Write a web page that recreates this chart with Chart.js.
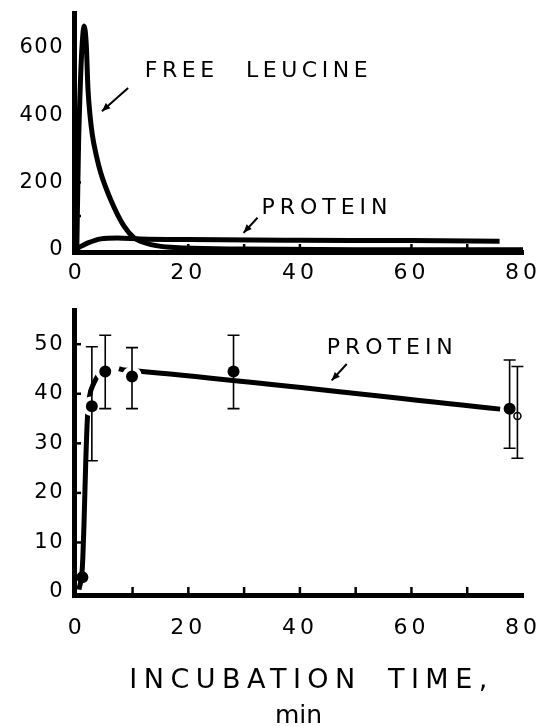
<!DOCTYPE html>
<html>
<head>
<meta charset="utf-8">
<script src="https://cdn.jsdelivr.net/npm/chart.js@4.4.1/dist/chart.umd.min.js"></script>
<style>
	html, body { margin: 0; padding: 0; background: #fff; }
	#wrap { position: relative; width: 540px; height: 726px; }
	#top-chart { position: absolute; left: 0; top: 0; }
	#bottom-chart { position: absolute; left: 0; top: 290px; }
</style>
</head>
<body>
<div id="wrap">
	<canvas id="top-chart" width="540" height="290"></canvas>
	<canvas id="bottom-chart" width="540" height="436"></canvas>
</div>
<script>
var FONT = '"DejaVu Sans", sans-serif';

// upper panel
var leucineX = [0, 0.3, 0.7, 1.0, 1.3, 1.7, 2.0, 2.4, 2.8, 3.5, 4.3, 6.1, 8.5, 10.3, 13.3, 19.3, 30, 50, 80];
var leucineY = [0, 300, 520, 620, 665, 610, 480, 395, 340, 280, 228, 148, 69, 35, 15, 5, 2, 0, 0];
var proteinTopX = [-0.3, 1, 2, 4.3, 7.3, 11.5, 20, 40, 60, 75.8];
var proteinTopY = [0, 12, 20, 32, 35, 32, 30, 28, 27, 25];
var topYTicks = [0, 200, 400, 600];
var topYMinor = [100, 200, 300, 400];
var topXTicks = [0, 20, 40, 60, 80];
var topXMinor = [20, 30, 40, 60, 70];

// lower panel
var curveX = [0.4, 1.0, 1.3, 1.6, 1.9, 2.3, 3.0, 4.0, 5.1, 6.5, 8.5, 10.8, 75.9];
var curveY = [0.5, 5, 14, 26, 35, 39.5, 42, 44, 45, 45.3, 44.8, 44.6, 36.9];
var pointX = [1.0, 2.7, 5.1, 9.9, 28.1, 77.6];
var pointY = [3, 37.5, 44.5, 43.5, 44.5, 37];
var pointLow = [null, 26.5, 37, 37, 37, 29];
var pointHigh = [null, 49.5, 51.8, 49.3, 51.8, 46.8];
var openX = [79];
var openY = [35.5];
var openLow = [27];
var openHigh = [45.5];
var bottomYTicks = [0, 10, 20, 30, 40, 50];
var bottomYMinor = [10, 20, 30, 40, 50];
var bottomXTicks = [0, 20, 40, 60, 80];
var bottomXMinor = [10, 20, 30, 40, 50, 60, 70];

function pairs(xs, ys) {
	return xs.map(function(x, i) { return { x: x, y: ys[i] }; });
}

function setTicks(list) {
	return function(scale) {
		scale.ticks = list.map(function(v) { return { value: v }; });
	};
}

// x labels are drawn before the datasets, y labels after them (ticks.z = 1)
var spacing = {
	id: 'spacing',
	beforeDraw: function(chart) {
		chart.ctx.letterSpacing = '4px';
	},
	afterDatasetsDraw: function(chart) {
		chart.ctx.letterSpacing = '1.5px';
	}
};

var innerTicks = {
	id: 'innerTicks',
	afterDatasetsDraw: function(chart, args, opts) {
		var ctx = chart.ctx, a = chart.chartArea;
		ctx.save();
		ctx.strokeStyle = '#000';
		ctx.lineWidth = 2.5;
		(opts.x || []).forEach(function(v) {
			var px = chart.scales.x.getPixelForValue(v);
			ctx.beginPath();
			ctx.moveTo(px, a.bottom);
			ctx.lineTo(px, a.bottom - 8);
			ctx.stroke();
		});
		(opts.y || []).forEach(function(v) {
			var py = chart.scales.y.getPixelForValue(v);
			ctx.beginPath();
			ctx.moveTo(a.left, py);
			ctx.lineTo(a.left + 7, py);
			ctx.stroke();
		});
		ctx.restore();
	}
};

var errorBars = {
	id: 'errorBars',
	afterDatasetsDraw: function(chart, args, opts) {
		var ctx = chart.ctx, sx = chart.scales.x, sy = chart.scales.y;
		ctx.save();
		ctx.strokeStyle = '#000';
		ctx.lineWidth = 1.6;
		(opts.sets || []).forEach(function(set) {
			set.x.forEach(function(x, i) {
				if (set.low[i] == null) return;
				var px = sx.getPixelForValue(x);
				var lo = sy.getPixelForValue(set.low[i]);
				var hi = sy.getPixelForValue(set.high[i]);
				ctx.beginPath();
				ctx.moveTo(px, lo); ctx.lineTo(px, hi);
				ctx.moveTo(px - 6, lo); ctx.lineTo(px + 6, lo);
				ctx.moveTo(px - 6, hi); ctx.lineTo(px + 6, hi);
				ctx.stroke();
			});
		});
		ctx.restore();
	}
};

var notes = {
	id: 'notes',
	afterDraw: function(chart, args, opts) {
		var ctx = chart.ctx, sx = chart.scales.x, sy = chart.scales.y;
		ctx.save();
		ctx.fillStyle = '#000';
		ctx.strokeStyle = '#000';
		(opts.items || []).forEach(function(n) {
			ctx.font = n.size + 'px ' + FONT;
			ctx.letterSpacing = n.spacing + 'px';
			ctx.wordSpacing = (n.words || 0) + 'px';
			ctx.textAlign = 'left';
			ctx.textBaseline = 'middle';
			ctx.fillText(n.text, sx.getPixelForValue(n.x), sy.getPixelForValue(n.y));
			if (n.arrow) {
				var x0 = sx.getPixelForValue(n.arrow[0]), y0 = sy.getPixelForValue(n.arrow[1]);
				var x1 = sx.getPixelForValue(n.arrow[2]), y1 = sy.getPixelForValue(n.arrow[3]);
				var ang = Math.atan2(y1 - y0, x1 - x0);
				ctx.lineWidth = 2;
				ctx.beginPath();
				ctx.moveTo(x0, y0); ctx.lineTo(x1, y1);
				ctx.stroke();
				ctx.beginPath();
				ctx.moveTo(x1, y1);
				ctx.lineTo(x1 - 9 * Math.cos(ang - 0.4), y1 - 9 * Math.sin(ang - 0.4));
				ctx.lineTo(x1 - 9 * Math.cos(ang + 0.4), y1 - 9 * Math.sin(ang + 0.4));
				ctx.closePath();
				ctx.fill();
			}
		});
		// axis title under the lower panel
		var a = chart.chartArea, cx = (a.left + a.right) / 2;
		(opts.title || []).forEach(function(t) {
			ctx.font = t.size + 'px ' + FONT;
			ctx.letterSpacing = t.spacing + 'px';
			ctx.wordSpacing = (t.words || 0) + 'px';
			ctx.textAlign = 'center';
			ctx.textBaseline = 'alphabetic';
			ctx.fillText(t.text, cx + t.dx, a.bottom + t.dy);
		});
		ctx.restore();
	}
};

function axes(xMin, xMax, xTicks, xPad, xHeight, yMin, yMax, yTicks) {
	return {
		x: {
			type: 'linear', min: xMin, max: xMax,
			afterBuildTicks: setTicks(xTicks),
			afterFit: function(s) { s.height = xHeight; s.paddingLeft = 0; s.paddingRight = 0; },
			grid: { display: false, drawTicks: false },
			border: { display: true, width: 5, color: '#000' },
			ticks: { color: '#000', padding: xPad, font: { family: FONT, size: 22 } }
		},
		y: {
			type: 'linear', min: yMin, max: yMax,
			afterBuildTicks: setTicks(yTicks),
			afterFit: function(s) { s.width = 74; s.paddingTop = 0; s.paddingBottom = 0; },
			grid: { display: false, drawTicks: false },
			border: { display: true, width: 5, color: '#000' },
			ticks: { color: '#000', padding: 10, z: 1, font: { family: FONT, size: 21 } }
		}
	};
}

var lineStyle = {
	borderColor: '#000', borderWidth: 5, pointRadius: 0,
	fill: false, cubicInterpolationMode: 'monotone'
};

var topChart = new Chart(document.getElementById('top-chart').getContext('2d'), {
	type: 'line',
	data: {
		datasets: [
			Object.assign({ label: 'Free leucine', data: pairs(leucineX, leucineY) }, lineStyle),
			Object.assign({ label: 'Protein', data: pairs(proteinTopX, proteinTopY) }, lineStyle)
		]
	},
	options: {
		responsive: false,
		animation: false,
		layout: { padding: { left: 0, top: 13, right: 17, bottom: 0 } },
		scales: axes(-0.5, 80, topXTicks, 8, 38, -7, 704, topYTicks),
		plugins: {
			legend: { display: false },
			tooltip: { enabled: false },
			innerTicks: { x: topXMinor, y: topYMinor },
			notes: {
				items: [
					{ text: 'FREE LEUCINE', x: 12.2, y: 532, size: 22, spacing: 4.5, words: 16, arrow: [9.2, 481, 4.5, 412] },
					{ text: 'PROTEIN', x: 33.1, y: 122, size: 22, spacing: 5, arrow: [32.4, 95, 29.9, 50] }
				]
			}
		}
	},
	plugins: [spacing, innerTicks, notes]
});

var bottomChart = new Chart(document.getElementById('bottom-chart').getContext('2d'), {
	type: 'line',
	data: {
		datasets: [
			{
				label: 'Protein', data: pairs(pointX, pointY), showLine: false,
				pointRadius: [6, 8, 8, 8, 6, 6], pointBackgroundColor: '#000',
				pointBorderColor: '#fff', pointBorderWidth: [0, 4, 4, 4, 0, 0]
			},
			{
				label: 'Protein (open)', data: pairs(openX, openY), showLine: false,
				pointRadius: 3.5, pointBackgroundColor: '#fff', pointBorderColor: '#000', pointBorderWidth: 1.5
			},
			Object.assign({
				label: 'Protein curve', data: pairs(curveX, curveY),
				segment: {
					borderDash: function(ctx) {
						return ctx.p0.parsed.x >= 4.0 && ctx.p1.parsed.x <= 10.8 ? [12, 10] : undefined;
					}
				}
			}, lineStyle)
		]
	},
	options: {
		responsive: false,
		animation: false,
		layout: { padding: { left: 0, top: 20, right: 17, bottom: 0 } },
		scales: axes(-0.5, 80, bottomXTicks, 20, 131, -0.6, 56.9, bottomYTicks),
		plugins: {
			legend: { display: false },
			tooltip: { enabled: false },
			innerTicks: { x: bottomXMinor, y: bottomYMinor },
			errorBars: {
				sets: [
					{ x: pointX, low: pointLow, high: pointHigh },
					{ x: openX, low: openLow, high: openHigh }
				]
			},
			notes: {
				items: [
					{ text: 'PROTEIN', x: 44.8, y: 49.2, size: 22, spacing: 5, arrow: [48.4, 46, 45.7, 42.7] }
				],
				title: [
					{ text: 'INCUBATION TIME,', size: 27, spacing: 6.5, words: 11, dx: 13, dy: 93 },
					{ text: 'min', size: 25, spacing: 0, dx: 0, dy: 128 }
				]
			}
		}
	},
	plugins: [spacing, innerTicks, errorBars, notes]
});
</script>
</body>
</html>
